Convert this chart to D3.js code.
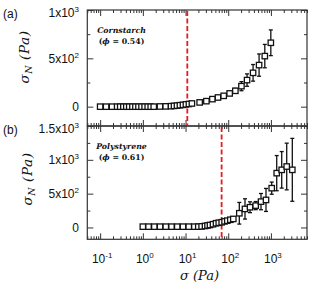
<!DOCTYPE html>
<html>
<head>
<meta charset="utf-8">
<script src="https://cdn.jsdelivr.net/npm/d3@7"></script>
<style>
  body { margin: 0; background: #fff; }
  text { font-family: "Liberation Sans", Arial, sans-serif; fill: #111; }
  .serif { font-family: "DejaVu Serif", serif; }
</style>
</head>
<body>
<svg id="chart" width="322" height="289"></svg>
<script>
// (a) cornstarch, phi = 0.54 : shear stress sigma (Pa) -> normal stress sigma_N (Pa)
const csSigma = [0.1, 0.138, 0.19,
  0.25, 0.295, 0.35, 0.41, 0.48, 0.57, 0.67, 0.79, 0.93, 1.1, 1.3, 1.53, 1.8,
  2.52, 3.43,
  4.57, 5.37, 6.3, 7.4, 8.7, 10.2, 12.0, 14.1,
  21.4, 30.8, 42.6, 57.6, 78.4, 108, 147, 204, 276, 382, 528, 719, 995];
const csStress = [0, 0, 0,
  0, 0, 0, 0, 0, 0, 0, 0, 0, 0, 0, 0, 0,
  2, 3,
  5, 8, 11, 15, 19, 24, 28, 33,
  44, 57, 78, 95, 112, 137, 164, 212, 275, 350, 430, 523, 661];
const csErr = [0, 0, 0,
  0, 0, 0, 0, 0, 0, 0, 0, 0, 0, 0, 0, 0,
  0, 0,
  0, 0, 0, 0, 0, 0, 0, 0,
  0, 0, 6, 8, 10, 15, 25, 47, 64, 86, 115, 121, 133];

// (b) polystyrene, phi = 0.61
const psSigma = [1, 1.36, 1.86, 2.53, 3.45, 4.70, 6.40, 8.72, 11.9, 16.1,
  19.9, 23.8, 28.6, 32.7, 37.4, 44, 51.7, 60, 70.3, 82, 95.1, 112, 131.5,
  181.8, 247, 324, 440, 586, 767, 1043, 1367, 1790, 2344, 3170];
const psStress = [12, 12, 12, 12, 12, 12, 12, 12, 12, 12,
  12, 16, 22, 30, 37, 48, 62, 70, 77, 90, 101, 114, 126,
  210, 274, 299, 323, 382, 407, 581, 803, 852, 901, 852];
const psErr = [0, 0, 0, 0, 0, 0, 0, 0, 0, 0,
  0, 0, 0, 0, 0, 0, 0, 0, 0, 0, 0, 0, 20,
  160, 150, 80, 60, 120, 170, 90, 260, 270, 345, 465];

// onset stresses (red dashed lines)
const csOnset = 11;
const psOnset = 70;

// tick labels
const xMajor = [0.1, 1, 10, 100, 1000];
const xMajorExp = ["-1", "0", "1", "2", "3"];
const csYTicks = [0, 500, 1000];
const csYLabels = [["0", ""], ["5x10", "2"], ["1x10", "3"]];
const psYTicks = [0, 500, 1000, 1500];
const psYLabels = [["0", ""], ["5x10", "2"], ["1x10", "3"], ["1.5x10", "3"]];

const svg = d3.select("#chart");
const left = 87.3, right = 307;

let x = d3.scaleLog().domain([0.05, 7000]).range([left, right]);
let xMinor = x.ticks().filter(d => xMajor.indexOf(d) < 0);

let drawPanel = (p) => {
  let y = d3.scaleLinear().domain(p.domain).range([p.bottom, p.top]);
  let g = svg.append("g").attr("id", p.name);

  let yMinor = d3.range(p.domain[0] < 0 ? 0 : p.domain[0], p.domain[1] + 1, 250)
    .filter(d => p.yTicks.indexOf(d) < 0 && d >= p.domain[0]);

  // axes all four sides, ticks pointing inward
  let axes = [
    [d3.axisBottom, `translate(0,${p.bottom})`, x, xMajor, xMinor],
    [d3.axisTop, `translate(0,${p.top})`, x, xMajor, xMinor],
    [d3.axisLeft, `translate(${left},0)`, y, p.yTicks, yMinor],
    [d3.axisRight, `translate(${right},0)`, y, p.yTicks, yMinor]
  ];
  axes.forEach(a => {
    [[a[3], 6], [a[4], 3]].forEach(t => {
      g.append("g")
        .attr("transform", a[1])
        .call(a[0](a[2]).tickValues(t[0]).tickSize(-t[1]).tickFormat(""))
        .call(s => s.select(".domain").remove())
        .selectAll("line").attr("stroke", "#333").attr("stroke-width", 1);
    });
  });

  g.append("rect")
    .attr("x", left).attr("y", p.top)
    .attr("width", right - left).attr("height", p.bottom - p.top)
    .attr("fill", "none").attr("stroke", "#333").attr("stroke-width", 1.2);

  // y tick labels
  p.yTicks.forEach((t, i) => {
    let base = Math.max(y(t) + 4.3, p.top + 7);
    let txt = g.append("text").attr("x", 79).attr("y", base)
      .attr("text-anchor", "end").attr("font-size", 12);
    txt.append("tspan").text(p.yLabels[i][0]);
    if (p.yLabels[i][1]) {
      txt.append("tspan").attr("dy", -5).attr("font-size", 8).text(p.yLabels[i][1]);
    }
  });

  // onset line
  g.append("line")
    .attr("x1", x(p.onset)).attr("x2", x(p.onset))
    .attr("y1", p.top + 1).attr("y2", p.bottom - 1)
    .attr("stroke", "#e8191f").attr("stroke-width", 1.8)
    .attr("stroke-dasharray", "5,2.5");

  let pts = p.sigma.map((s, i) => ({s: s, v: p.stress[i], e: p.err[i]}));

  // error bars
  let eb = g.append("g").attr("stroke", "#111").attr("stroke-width", 1.3);
  pts.filter(d => d.e > 0).forEach(d => {
    let cx = x(d.s);
    eb.append("line").attr("x1", cx).attr("x2", cx)
      .attr("y1", y(d.v - d.e)).attr("y2", y(d.v + d.e));
    [d.v - d.e, d.v + d.e].forEach(v => {
      eb.append("line").attr("x1", cx - 2).attr("x2", cx + 2)
        .attr("y1", y(v)).attr("y2", y(v));
    });
  });

  // markers
  g.selectAll("rect.pt")
    .data(pts)
    .enter()
    .append("rect")
      .attr("class", "pt")
      .attr("x", d => x(d.s) - 2.7)
      .attr("y", d => y(d.v) - 2.7)
      .attr("width", 5.4).attr("height", 5.4)
      .attr("fill", "#fff").attr("stroke", "#111").attr("stroke-width", 1.3);

  // material annotation
  g.append("text").attr("class", "serif")
    .attr("x", 121.5).attr("y", p.top + 23).attr("text-anchor", "middle")
    .attr("font-size", 7.8).attr("font-weight", "bold").attr("font-style", "italic")
    .text(p.label);
  let ph = g.append("text").attr("class", "serif")
    .attr("x", 121.5).attr("y", p.top + 34).attr("text-anchor", "middle")
    .attr("font-size", 7.8).attr("font-weight", "bold");
  ph.append("tspan").text("(");
  ph.append("tspan").attr("font-style", "italic").text("ϕ");
  ph.append("tspan").text(" = " + p.phi + ")");

  // panel letter
  g.append("text").attr("x", 3).attr("y", p.top + 7.5).attr("font-size", 12).text(p.letter);

  // y title
  let yt = g.append("text").attr("class", "serif")
    .attr("transform", `translate(${p.titleX},${p.titleY}) rotate(-90)`)
    .attr("text-anchor", "middle").attr("font-size", 13.5)
    .attr("font-style", "italic").attr("letter-spacing", 0.6);
  yt.append("tspan").text("σ");
  yt.append("tspan").attr("dy", 3).attr("font-size", 9.5).text("N");
  yt.append("tspan").attr("dy", -3).text(" (Pa)");
};

drawPanel({name: "cornstarch", letter: "(a)", label: "Cornstarch", phi: "0.54",
  domain: [-200, 1000], top: 10, bottom: 126,
  yTicks: csYTicks, yLabels: csYLabels,
  sigma: csSigma, stress: csStress, err: csErr, onset: csOnset,
  titleX: 29, titleY: 57});

drawPanel({name: "polystyrene", letter: "(b)", label: "Polystyrene", phi: "0.61",
  domain: [-175, 1500], top: 126, bottom: 239.3,
  yTicks: psYTicks, yLabels: psYLabels,
  sigma: psSigma, stress: psStress, err: psErr, onset: psOnset,
  titleX: 32, titleY: 179});

// x tick labels
xMajor.forEach((t, i) => {
  let txt = svg.append("text").attr("x", x(t) + 2).attr("y", 263)
    .attr("text-anchor", "middle").attr("font-size", 12);
  txt.append("tspan").text("10");
  txt.append("tspan").attr("dy", -5).attr("font-size", 8).text(xMajorExp[i]);
});

// x title
let xt = svg.append("text").attr("class", "serif")
  .attr("x", 199.5).attr("y", 280).attr("text-anchor", "middle")
  .attr("font-size", 13).attr("font-style", "italic");
xt.append("tspan").text("σ (Pa)");
</script>
</body>
</html>
